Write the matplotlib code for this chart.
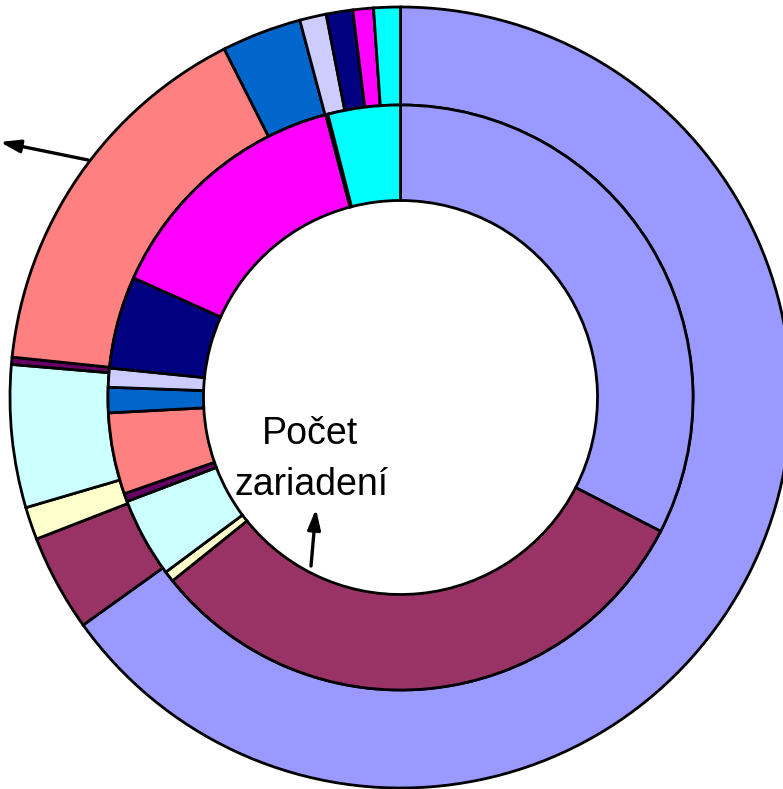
import matplotlib
matplotlib.use("Agg")
import matplotlib.pyplot as plt

# Excel default chart palette, one colour per category
colors = ["#9999FF", "#993366", "#FFFFCC", "#CCFFFF", "#660066", "#FF8080",
          "#0066CC", "#CCCCFF", "#000080", "#FF00FF", "#FFFF00", "#00FFFF"]

# outer ring (share in %)
outer_vals = [65.1, 4.0, 1.35, 5.9, 0.3, 15.9, 3.3, 1.1, 1.1, 0.85, 0.0, 1.1]
# inner ring: Počet zariadení (share in %)
inner_vals = [32.6, 31.7, 0.6, 4.4, 0.45, 4.5, 1.4, 1.05, 5.1, 14.2, 0.12, 4.0]

W, H = 783, 789
cx, cy = 400.5, H - 397.5
r_out, r_mid, r_in = 390.5, 292.5, 197.0

fig = plt.figure(figsize=(W / 100, H / 100), dpi=100)
ax = fig.add_axes([0, 0, 1, 1])

wp = dict(edgecolor="black", linewidth=2.0, joinstyle="miter")
ax.pie(outer_vals, colors=colors, radius=r_out, center=(cx, cy),
       startangle=90, counterclock=False,
       wedgeprops=dict(width=r_out - r_mid, **wp))
ax.pie(inner_vals, colors=colors, radius=r_mid, center=(cx, cy),
       startangle=90, counterclock=False,
       wedgeprops=dict(width=r_mid - r_in, **wp))

ax.text(310, H - 444, "Počet", ha="center", va="baseline",
        fontsize=27, family="Liberation Sans")
ax.text(312, H - 495, "zariadení", ha="center", va="baseline",
        fontsize=27, family="Liberation Sans")

arrow = dict(arrowstyle="-|>,head_length=0.5,head_width=0.16", lw=2.4,
             color="black", mutation_scale=24, shrinkA=0, shrinkB=0)
ax.annotate("", xy=(316, H - 509), xytext=(311, H - 566), arrowprops=arrow)
ax.annotate("", xy=(0, H - 142), xytext=(88, H - 160), arrowprops=arrow)

ax.set_xlim(0, W)
ax.set_ylim(0, H)
ax.set_aspect("equal")
ax.axis("off")

fig.savefig("out.png", dpi=100, facecolor="white")
